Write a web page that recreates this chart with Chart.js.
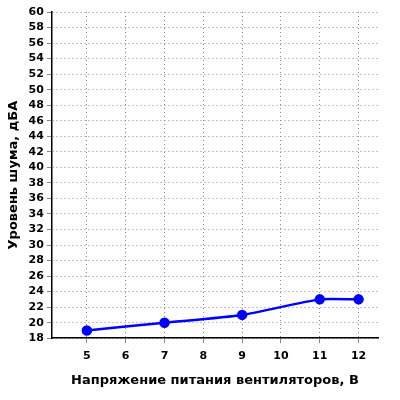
<!DOCTYPE html><html><head><script src="https://cdn.jsdelivr.net/npm/chart.js"></script>
<style>body{margin:0;background:#fff}#w{width:400px;height:400px}</style></head><body><div id="w"><canvas id="c"></canvas></div>
<script>
const voltages=[5,7,9,11,12];
const noise=[19,20,21,23,23];
const xTicks=[5,6,7,8,9,10,11,12];
Chart.defaults.font.family='"DejaVu Sans"';
Chart.defaults.font.weight='bold';
Chart.defaults.color='#000';
new Chart(document.getElementById('c'),{type:'line',
data:{datasets:[{data:voltages.map((v,i)=>({x:v,y:noise[i]})),borderColor:'#0000ff',backgroundColor:'#0000ff',borderWidth:2.5,pointRadius:4,tension:0.2}]},
options:{responsive:true,maintainAspectRatio:false,animation:false,
layout:{padding:{top:12,right:22,left:2,bottom:8}},
plugins:{legend:{display:false},tooltip:{enabled:false}},
scales:{
x:{type:'linear',min:4.1,max:12.5,afterBuildTicks:a=>{a.ticks=xTicks.map(v=>({value:v}))},
grid:{color:'#888',tickLength:5},border:{color:'#000',width:1.5,dash:[1,3]},
ticks:{font:{size:11,weight:'bold'},padding:6},
title:{display:true,text:'Напряжение питания вентиляторов, В',font:{size:13,weight:'bold'},padding:{top:4}}},
y:{min:18,max:60,ticks:{stepSize:2,autoSkip:false,font:{size:11,weight:'bold'},padding:3},
grid:{color:'#888',tickLength:5},border:{color:'#000',width:1.5,dash:[1,3]},
title:{display:true,text:'Уровень шума, дБА',font:{size:13,weight:'bold'}}}}}});
</script></body></html>
